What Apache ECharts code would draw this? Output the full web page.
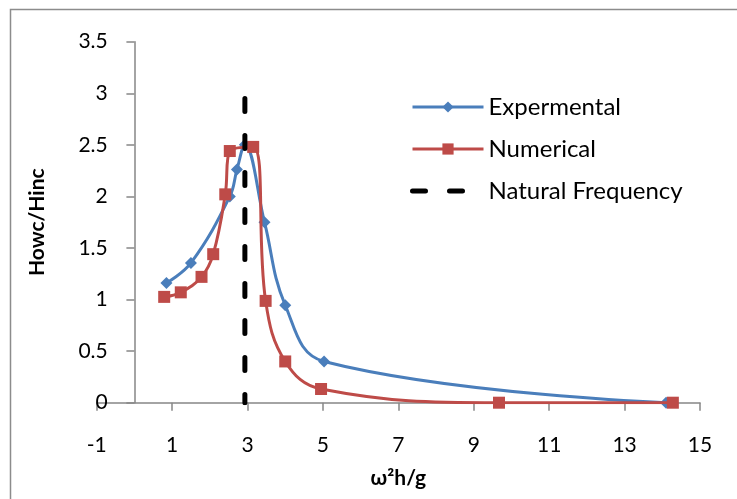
<!DOCTYPE html>
<html>
<head>
<meta charset="utf-8">
<script src="https://cdn.jsdelivr.net/npm/echarts@6/dist/echarts.min.js"></script>
<style>
  html, body { margin: 0; padding: 0; background: #fff; }
  #chart { width: 737px; height: 499px; }
</style>
</head>
<body>
<div id="chart"></div>
<script>
// data
const expX = [0.85, 1.50, 2.53, 2.72, 2.93, 3.45, 4.00, 5.03, 14.10]
const expY = [1.16, 1.355, 2.00, 2.26, 2.50, 1.75, 0.945, 0.40, 0.00]
const numX = [0.79, 1.23, 1.78, 2.09, 2.41, 2.53, 3.15, 3.48, 4.00, 4.95, 9.67, 14.28]
const numY = [1.026, 1.07, 1.22, 1.44, 2.02, 2.44, 2.48, 0.987, 0.40, 0.133, 0.00, 0.00]
const natX = [2.93, 2.93]
const natY = [2.95, 0]

const seriesNames = ['Expermental', 'Numerical', 'Natural Frequency']

const FONT = 'Lato'
const zip = (xs, ys) => xs.map((x, i) => [x, ys[i]])

const chart = echarts.init(document.getElementById('chart'))

const option = {
  backgroundColor: '#fff',
  animation: false,
  textStyle: { fontFamily: FONT },
  graphic: [
    {
      type: 'rect',
      shape: { x: 10.5, y: 9.5, width: 800, height: 600 },
      style: { fill: 'none', stroke: '#8c8c8c', lineWidth: 1.5 },
      silent: true
    }
  ],
  grid: {
    left: 96.7,
    right: 37,
    top: 41.7,
    bottom: 96.3,
    containLabel: false,
    outerBoundsMode: 'none'
  },
  legend: {
    orient: 'vertical',
    left: 405,
    top: 90,
    itemWidth: 71,
    itemHeight: 14,
    itemGap: 18,
    data: [
      { name: seriesNames[0], lineStyle: { width: 3 } },
      { name: seriesNames[1], lineStyle: { width: 3 } },
      { name: seriesNames[2], itemStyle: { opacity: 0 }, lineStyle: { width: 5 } }
    ],
    textStyle: {
      fontFamily: FONT,
      fontSize: 24,
      lineHeight: 24,
      color: '#000'
    }
  },
  xAxis: {
    type: 'value',
    min: -1,
    max: 15,
    interval: 2,
    name: 'ω²h/g',
    nameLocation: 'middle',
    nameGap: 65,
    nameTextStyle: { fontFamily: FONT, fontSize: 21, fontWeight: 'bold', color: '#000' },
    axisLine: { onZero: true, lineStyle: { color: '#868686', width: 1.5 } },
    axisTick: { show: true, inside: false, length: 8, lineStyle: { color: '#868686', width: 1.5 } },
    axisLabel: { fontFamily: FONT, fontSize: 21, color: '#000', margin: 32 },
    splitLine: { show: false }
  },
  yAxis: {
    type: 'value',
    min: 0,
    max: 3.5,
    interval: 0.5,
    name: 'Howc/Hinc',
    nameLocation: 'middle',
    nameGap: 49,
    nameTextStyle: { fontFamily: FONT, fontSize: 21, fontWeight: 'bold', color: '#000' },
    axisLine: { show: true, onZero: true, lineStyle: { color: '#868686', width: 1.5 } },
    axisTick: { show: true, inside: false, length: 8, lineStyle: { color: '#868686', width: 1.5 } },
    axisLabel: { fontFamily: FONT, fontSize: 21, color: '#000', margin: -11 },
    splitLine: { show: false }
  },
  series: [
    {
      name: seriesNames[0],
      type: 'line',
      data: zip(expX, expY),
      smooth: 0.4,
      symbol: 'diamond',
      symbolSize: 12,
      itemStyle: { color: '#4a7ebb' },
      lineStyle: { color: '#4a7ebb', width: 3 },
      z: 3
    },
    {
      name: seriesNames[1],
      type: 'line',
      data: zip(numX, numY),
      smooth: 0.4,
      symbol: 'rect',
      symbolSize: 12,
      itemStyle: { color: '#be4b48' },
      lineStyle: { color: '#be4b48', width: 3 },
      z: 4
    },
    {
      name: seriesNames[2],
      type: 'line',
      data: zip(natX, natY),
      symbol: 'none',
      itemStyle: { color: '#000' },
      lineStyle: { color: '#000', width: 5, type: [13, 24], cap: 'round' },
      z: 5
    }
  ]
}

chart.setOption(option)
</script>
</body>
</html>
